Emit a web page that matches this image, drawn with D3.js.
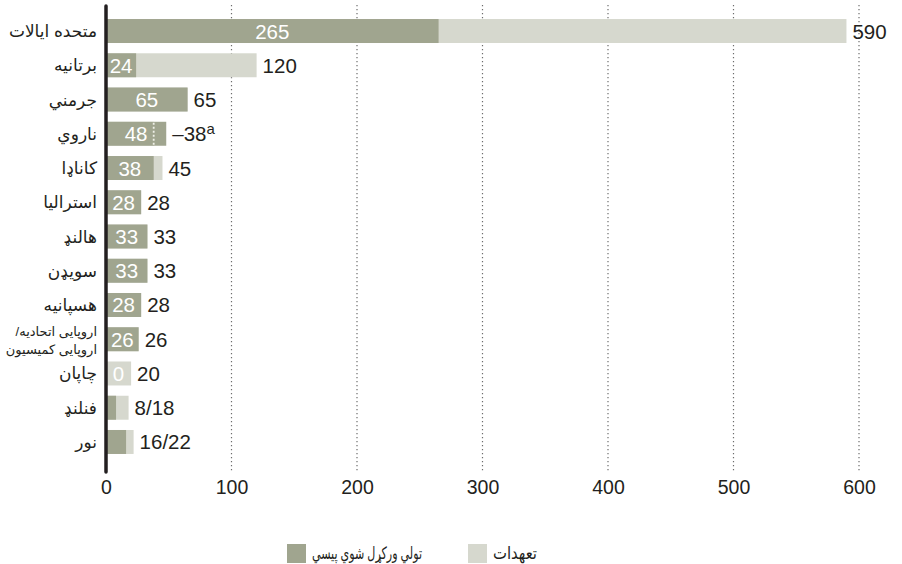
<!DOCTYPE html>
<html>
<head>
<meta charset="utf-8">
<script src="https://cdn.jsdelivr.net/npm/d3@7"></script>
<style>
  body { margin: 0; background: #fff; }
  svg { font-family: "Liberation Sans", Arial, "DejaVu Sans", sans-serif; }
</style>
</head>
<body>
<svg width="902" height="564"></svg>
<script>
// هیوادونه (categories)
var hewadona = ['متحده ایالات', 'برتانیه', 'جرمني', 'ناروي', 'کاناډا', 'استرالیا', 'هالنډ',
  'سویډن', 'هسپانیه', '/اروپایی اتحادیه|اروپایی کمیسیون', 'چاپان', 'فنلنډ', 'نور'];

// ورکړل شوې پیسې (disbursed)
var warkral = [265, 24, 65, 48, 38, 28, 33, 33, 28, 26, 0, 8, 16];

// تعهدات (pledged)
var tahodat = [590, 120, 65, 38, 45, 28, 33, 33, 28, 26, 20, 18, 22];

// labels shown after each bar
var bahar = ['590', '120', '65', '–38', '45', '28', '33', '33', '28', '26', '20', '8/18', '16/22'];

// labels inside the bars ('' = none)
var danana = ['265', '24', '65', '48', '38', '28', '33', '33', '28', '26', '0', '', ''];

var ticks = [0, 100, 200, 300, 400, 500, 600];

var torRang = '#a0a58f';
var sperRang = '#d6d8ce';

var svg = d3.select('svg');

var x = d3.scaleLinear().domain([0, 600]).range([106, 859]);
var y = d3.scaleBand().domain(hewadona).range([13.9, 459.1]).paddingInner(0.3).paddingOuter(0.15);

//Grid lines
svg.selectAll('.grid').data(ticks.slice(1)).enter().append('line')
  .attr('x1', d => x(d)).attr('x2', d => x(d))
  .attr('y1', 5).attr('y2', 472)
  .attr('stroke', '#6d6d6d').attr('stroke-width', 1.2)
  .attr('stroke-dasharray', '1.2,2.8');

//Pledged bars (light)
svg.selectAll('.tahod').data(hewadona).enter().append('rect')
  .attr('x', x(0)).attr('y', d => y(d))
  .attr('width', (d, i) => x(tahodat[i]) - x(0))
  .attr('height', y.bandwidth())
  .attr('fill', sperRang);

//Disbursed bars (dark)
svg.selectAll('.warkral').data(hewadona).enter().append('rect')
  .attr('x', x(0)).attr('y', d => y(d))
  .attr('width', (d, i) => x(warkral[i]) - x(0))
  .attr('height', y.bandwidth())
  .attr('fill', torRang);

//Norway: pledge is below disbursed, dotted marker
var nr = hewadona[3];
svg.append('line')
  .attr('x1', x(tahodat[3])).attr('x2', x(tahodat[3]))
  .attr('y1', y(nr) + 1).attr('y2', y(nr) + y.bandwidth() - 1)
  .attr('stroke', '#eef0e8').attr('stroke-width', 1.8)
  .attr('stroke-dasharray', '2,2');

//Inner labels
svg.selectAll('.dana').data(hewadona).enter().append('text')
  .attr('x', (d, i) => {
    var v = warkral[i] > 0 ? warkral[i] : tahodat[i];
    return (x(0) + x(v)) / 2;
  })
  .attr('y', d => y(d) + y.bandwidth() / 2 + 7.5)
  .attr('text-anchor', 'middle')
  .attr('fill', '#fff')
  .attr('font-size', 20.5)
  .text((d, i) => danana[i]);

//Outer labels
var baharText = svg.selectAll('.bahar').data(hewadona).enter().append('text')
  .attr('x', (d, i) => x(Math.max(warkral[i], tahodat[i])) + 6)
  .attr('y', d => y(d) + y.bandwidth() / 2 + 7.5)
  .attr('fill', '#231f20')
  .attr('font-size', 20.5)
  .text((d, i) => bahar[i]);
baharText.filter((d, i) => i == 3).append('tspan')
  .attr('font-size', 15).attr('dy', -7).text('a');

//Country labels
svg.selectAll('.nom').data(hewadona).enter().append('text')
  .attr('x', 97)
  .attr('y', d => y(d) + y.bandwidth() / 2)
  .attr('text-anchor', 'end')
  .attr('fill', '#231f20')
  .each(function(d) {
    var parts = d.split('|');
    var t = d3.select(this);
    if (parts.length == 1) {
      t.attr('font-size', 17).attr('dy', 6).text(d);
    } else {
      t.attr('font-size', 13);
      t.append('tspan').attr('x', 97).attr('dy', -3).text(parts[0]);
      t.append('tspan').attr('x', 97).attr('dy', 18).text(parts[1]);
    }
  });

//Axis line
svg.append('line')
  .attr('x1', x(0)).attr('x2', x(0))
  .attr('y1', 6).attr('y2', 472)
  .attr('stroke', '#231f20').attr('stroke-width', 3.5)
  .attr('stroke-linecap', 'round');

//Tick labels
var eixo = svg.append('g').attr('transform', 'translate(0,480)')
  .call(d3.axisBottom(x).tickValues(ticks).tickSize(0).tickPadding(0));
eixo.select('.domain').remove();
eixo.selectAll('text')
  .attr('font-family', '"Liberation Sans", Arial, sans-serif')
  .attr('font-size', 19.5).attr('fill', '#231f20');

//Legend
var legenda = [
  { nom: 'تولي ورکړل شوي پيسي', rang: torRang, x: 287, w: 110 },
  { nom: 'تعهدات', rang: sperRang, x: 468, w: 44 }
];
legenda.forEach(function(l) {
  svg.append('rect').attr('x', l.x).attr('y', 544).attr('width', 19).attr('height', 19).attr('fill', l.rang);
  svg.append('text').attr('x', l.x + 25).attr('y', 559)
    .attr('font-size', 17).attr('fill', '#231f20')
    .attr('textLength', l.w).attr('lengthAdjust', 'spacingAndGlyphs')
    .text(l.nom);
});
</script>
</body>
</html>
